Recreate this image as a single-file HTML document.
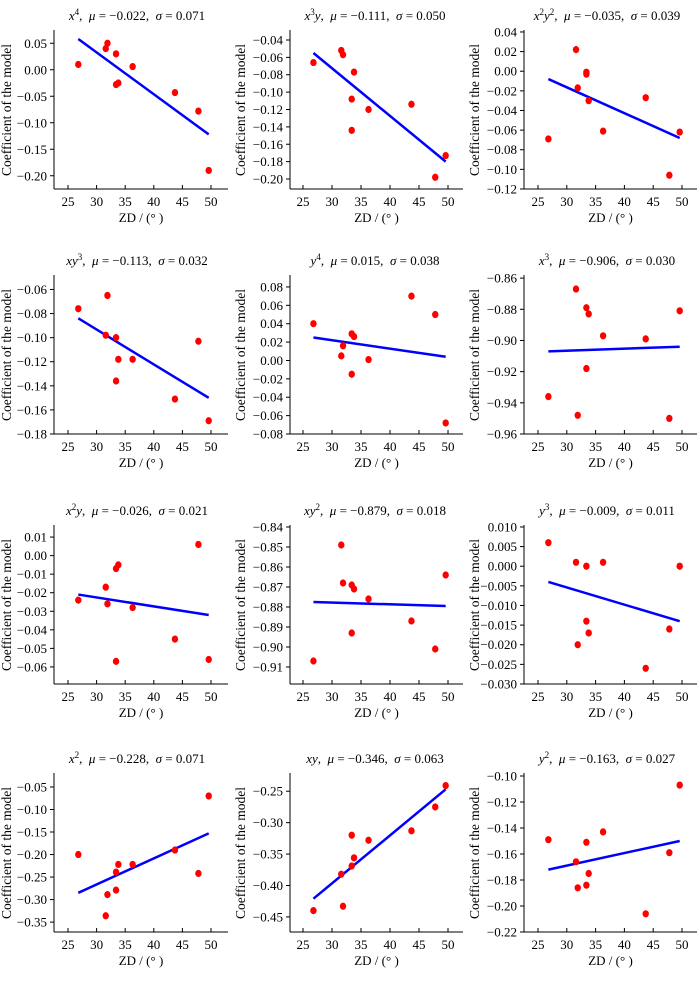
<!DOCTYPE html>
<html><head><meta charset="utf-8">
<style>
html,body{margin:0;padding:0;background:#fff;}
svg{display:block;font-family:"Liberation Serif",serif;}
</style></head>
<body>
<svg id="chart" width="700" height="984" viewBox="0 0 700 984" xmlns="http://www.w3.org/2000/svg"></svg>
<script>
// shared x values (ZD, degrees)
const zd = [26.8, 31.6, 31.9, 33.4, 33.4, 33.8, 36.3, 43.7, 47.8, 49.6];
const xTicks = [25, 30, 35, 40, 45, 50];
// panel terms
const terms = [["x","4",""],["x","3","y"],["x","2","y","2"],["xy","3",""],["y","4",""],["x","3",""],["x","2","y"],["xy","2",""],["y","3",""],["x","2",""],["xy","",""],["y","2",""]];
const mus = ["−0.022","−0.111","−0.035","−0.113","0.015","−0.906","−0.026","−0.879","−0.009","−0.228","−0.346","−0.163"];
const sigmas = ["0.071","0.050","0.039","0.032","0.038","0.030","0.021","0.018","0.011","0.071","0.063","0.027"];
// coefficient values per panel (same order as zd)
const c_x4   = [0.010, 0.040, 0.050, 0.030, -0.028, -0.025, 0.006, -0.043, -0.078, -0.190];
const c_x3y  = [-0.066, -0.052, -0.057, -0.108, -0.144, -0.077, -0.120, -0.114, -0.198, -0.173];
const c_x2y2 = [-0.069, 0.022, -0.017, -0.001, -0.003, -0.030, -0.061, -0.027, -0.106, -0.062];
const c_xy3  = [-0.076, -0.098, -0.065, -0.100, -0.136, -0.118, -0.118, -0.151, -0.103, -0.169];
const c_y4   = [0.040, 0.005, 0.016, 0.029, -0.015, 0.026, 0.001, 0.070, 0.050, -0.068];
const c_x3   = [-0.936, -0.867, -0.948, -0.879, -0.918, -0.883, -0.897, -0.899, -0.950, -0.881];
const c_x2y  = [-0.024, -0.017, -0.026, -0.007, -0.057, -0.005, -0.028, -0.045, 0.006, -0.056];
const c_xy2  = [-0.907, -0.849, -0.868, -0.869, -0.893, -0.871, -0.876, -0.887, -0.901, -0.864];
const c_y3   = [0.006, 0.001, -0.020, 0.000, -0.014, -0.017, 0.001, -0.026, -0.016, 0.000];
const c_x2   = [-0.200, -0.336, -0.289, -0.239, -0.279, -0.222, -0.222, -0.190, -0.242, -0.070];
const c_xy   = [-0.440, -0.382, -0.433, -0.320, -0.369, -0.356, -0.328, -0.313, -0.275, -0.241];
const c_y2   = [-0.149, -0.166, -0.186, -0.151, -0.184, -0.175, -0.143, -0.206, -0.159, -0.107];
const coefs = [c_x4, c_x3y, c_x2y2, c_xy3, c_y4, c_x3, c_x2y, c_xy2, c_y3, c_x2, c_xy, c_y2];
// fitted line values at x = 26.8 and 49.6
const fitX = [26.8, 49.6];
const fits = [[0.058,-0.122],[-0.055,-0.180],[-0.008,-0.068],[-0.084,-0.150],[0.025,0.004],[-0.907,-0.904],[-0.021,-0.032],[-0.8775,-0.8795],[-0.004,-0.014],[-0.285,-0.153],[-0.421,-0.247],[-0.172,-0.150]];
// y tick labels
const yTicks = [
 ["0.05","0.00","−0.05","−0.10","−0.15","−0.20"],
 ["−0.04","−0.06","−0.08","−0.10","−0.12","−0.14","−0.16","−0.18","−0.20"],
 ["0.04","0.02","0.00","−0.02","−0.04","−0.06","−0.08","−0.10","−0.12"],
 ["−0.06","−0.08","−0.10","−0.12","−0.14","−0.16","−0.18"],
 ["0.08","0.06","0.04","0.02","0.00","−0.02","−0.04","−0.06","−0.08"],
 ["−0.86","−0.88","−0.90","−0.92","−0.94","−0.96"],
 ["0.01","0.00","−0.01","−0.02","−0.03","−0.04","−0.05","−0.06"],
 ["−0.84","−0.85","−0.86","−0.87","−0.88","−0.89","−0.90","−0.91"],
 ["0.010","0.005","0.000","−0.005","−0.010","−0.015","−0.020","−0.025","−0.030"],
 ["−0.05","−0.10","−0.15","−0.20","−0.25","−0.30","−0.35"],
 ["−0.25","−0.30","−0.35","−0.40","−0.45"],
 ["−0.10","−0.12","−0.14","−0.16","−0.18","−0.20","−0.22"]
];
// y domains [bottom, top]
const yDomains = [[-0.225,0.075],[-0.2115,-0.0285],[-0.12,0.042],[-0.18,-0.048],[-0.08,0.093],[-0.96,-0.858],[-0.0692,0.0165],[-0.9185,-0.839],[-0.030,0.0105],[-0.372,-0.019],[-0.474,-0.221],[-0.22,-0.0977]];

const NS = "http://www.w3.org/2000/svg";
const svg = document.getElementById('chart');
function mk(tag, attrs, parent){const e=document.createElementNS(NS,tag);for(const k in attrs)e.setAttribute(k,attrs[k]);parent.appendChild(e);return e;}
const rowBase = [0, 245, 495, 743];
const colAxis = [54, 290, 524];
const colX25 = [68, 303, 538];
const colX50 = [211, 448, 682];
const colEnd = [228, 463, 697];
const titleX = [137, 375, 607];
const ylabX = [11, 245, 479];
const num = s => parseFloat(s.replace('−','-'));
const NB = '\u00a0';

for (let p=0;p<12;p++){
  const r=Math.floor(p/3), c=p%3;
  const bottom=rowBase[r]+189, top=rowBase[r]+30;
  const ax=colAxis[c];
  const xs = v => colX25[c] + (v-25)*(colX50[c]-colX25[c])/25;
  const ys = v => bottom - (v-yDomains[p][0])*(bottom-top)/(yDomains[p][1]-yDomains[p][0]);
  const g=mk('g',{},svg);
  
  
  // title
  const t=terms[p];
  const tt=mk('text',{x:titleX[c],y:rowBase[r]+20,'text-anchor':'middle','font-size':'13'},g);
  
  
  const a=mk('tspan',{'font-style':'italic'},tt);a.textContent=t[0];
  let raised=false;
  if(t[1]){const s=mk('tspan',{'font-size':'9',dy:'-5'},tt);s.textContent=t[1];raised=true;}
  if(t[2]){const s=mk('tspan',{'font-style':'italic',dy:raised?'5':'0'},tt);s.textContent=t[2];raised=false;
    if(t[3]){const s2=mk('tspan',{'font-size':'9',dy:'-5'},tt);s2.textContent=t[3];raised=true;}
  }
  const r1=mk('tspan',{dy:raised?'5':'0'},tt);r1.textContent=','+NB+NB;
  const m=mk('tspan',{'font-style':'italic'},tt);m.textContent='μ';
  const r2=mk('tspan',{},tt);r2.textContent=NB+'='+NB+mus[p]+','+NB+NB;
  const sg=mk('tspan',{'font-style':'italic'},tt);sg.textContent='σ';
  const r3=mk('tspan',{},tt);r3.textContent=NB+'='+NB+sigmas[p];
  // axes
  const yl=mk('line',{x1:ax,y1:top,x2:ax,y2:bottom,stroke:'#000','stroke-width':1},g);
  
  
  const xl=mk('line',{x1:ax,y1:bottom,x2:colEnd[c],y2:bottom,stroke:'#000','stroke-width':1},g);
  
  
  xTicks.forEach(v=>{
    const x=xs(v);
    mk('line',{x1:x,y1:bottom,x2:x,y2:bottom-4,stroke:'#000'},g);
    const tl=mk('text',{x:x,y:bottom+17,'text-anchor':'middle','font-size':'13'},g);
    
    
    tl.textContent=v;
  });
  yTicks[p].forEach(s=>{
    const y=ys(num(s));
    mk('line',{x1:ax-4,y1:y,x2:ax,y2:y,stroke:'#000'},g);
    const tl=mk('text',{x:ax-7,y:y+4.5,'text-anchor':'end','font-size':'13'},g);
    
    
    tl.textContent=s;
  });
  const xt=mk('text',{x:(ax+colEnd[c])/2,y:rowBase[r]+222,'text-anchor':'middle','font-size':'13'},g);
  
  
  xt.textContent='ZD'+NB+'/'+NB+'(°'+NB+')';
  const cy=rowBase[r]+110;
  const yt=mk('text',{x:ylabX[c],y:cy,'text-anchor':'middle','font-size':'13.5',transform:`rotate(-90 ${ylabX[c]} ${cy})`},g);
  
  
  yt.textContent='Coefficient of the model';
  // fit line
  const fl=mk('line',{x1:xs(fitX[0]),y1:ys(fits[p][0]),x2:xs(fitX[1]),y2:ys(fits[p][1]),stroke:'#0000ff','stroke-width':2.5},g);
  
  
  // points
  coefs[p].forEach((v,i)=>{
    const pt=mk('ellipse',{cx:xs(zd[i]),cy:ys(v),rx:3.2,ry:3.6,fill:'#ff0000'},g);
    
    
  });
}
</script>
</body></html>
